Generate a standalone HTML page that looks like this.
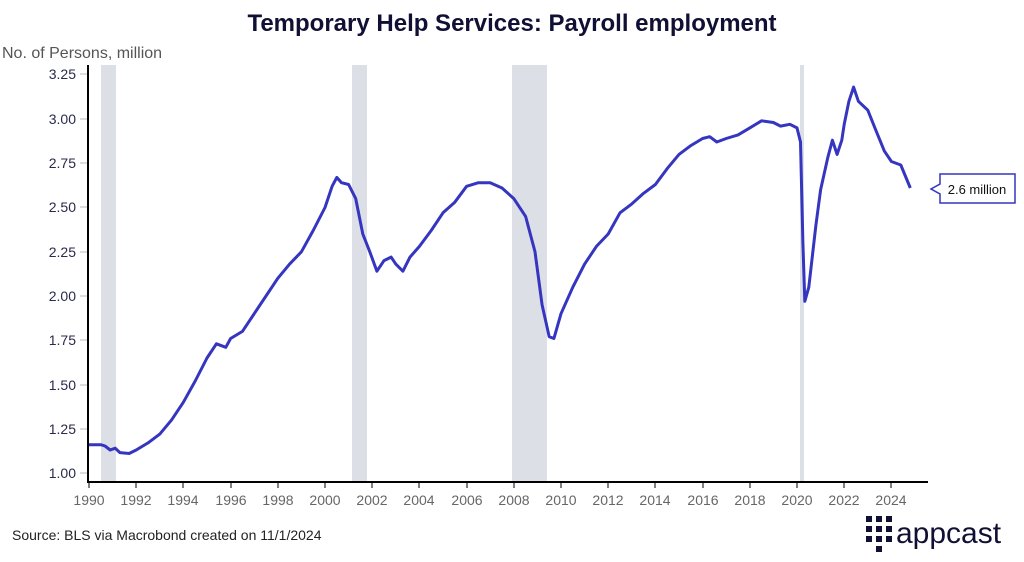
<!DOCTYPE html>
<html><head><meta charset="utf-8"><style>
body{margin:0;background:#fff;width:1024px;height:557px;overflow:hidden;font-family:"Liberation Sans",sans-serif}
</style></head><body>
<svg width="1024" height="557" xmlns="http://www.w3.org/2000/svg" font-family="Liberation Sans, sans-serif">
<text x="512" y="31" text-anchor="middle" font-size="24" font-weight="bold" fill="#101035">Temporary Help Services: Payroll employment</text>
<text x="2" y="58" font-size="16" fill="#555">No. of Persons, million</text>
<g fill="#dcdfe6">
<rect x="101" y="65" width="15" height="417"/>
<rect x="352" y="65" width="15" height="417"/>
<rect x="512" y="65" width="35" height="417"/>
<rect x="800" y="65" width="4" height="417"/>
</g>
<g font-size="14" fill="#2a2a4a" text-anchor="end">
<text x="76" y="79">3.25</text><text x="76" y="124">3.00</text><text x="76" y="168">2.75</text>
<text x="76" y="212">2.50</text><text x="76" y="257">2.25</text><text x="76" y="301">2.00</text>
<text x="76" y="345">1.75</text><text x="76" y="390">1.50</text><text x="76" y="434">1.25</text>
<text x="76" y="478">1.00</text>
</g>
<g stroke="#bbb" stroke-width="1">
<line x1="80" x2="87" y1="74" y2="74"/><line x1="80" x2="87" y1="119" y2="119"/><line x1="80" x2="87" y1="163" y2="163"/><line x1="80" x2="87" y1="207" y2="207"/><line x1="80" x2="87" y1="252" y2="252"/><line x1="80" x2="87" y1="296" y2="296"/><line x1="80" x2="87" y1="340" y2="340"/><line x1="80" x2="87" y1="385" y2="385"/><line x1="80" x2="87" y1="429" y2="429"/><line x1="80" x2="87" y1="473" y2="473"/>
</g>
<line x1="88" y1="65" x2="88" y2="483" stroke="#000" stroke-width="2"/>
<line x1="87" y1="482" x2="928" y2="482" stroke="#000" stroke-width="2"/>
<g stroke="#555" stroke-width="1.5">
<line x1="89" x2="89" y1="483" y2="488"/><line x1="136" x2="136" y1="483" y2="488"/><line x1="183" x2="183" y1="483" y2="488"/><line x1="231" x2="231" y1="483" y2="488"/><line x1="278" x2="278" y1="483" y2="488"/><line x1="325" x2="325" y1="483" y2="488"/><line x1="372" x2="372" y1="483" y2="488"/><line x1="419" x2="419" y1="483" y2="488"/><line x1="467" x2="467" y1="483" y2="488"/><line x1="514" x2="514" y1="483" y2="488"/><line x1="561" x2="561" y1="483" y2="488"/><line x1="608" x2="608" y1="483" y2="488"/><line x1="655" x2="655" y1="483" y2="488"/><line x1="703" x2="703" y1="483" y2="488"/><line x1="750" x2="750" y1="483" y2="488"/><line x1="797" x2="797" y1="483" y2="488"/><line x1="844" x2="844" y1="483" y2="488"/><line x1="891" x2="891" y1="483" y2="488"/>
</g>
<g font-size="14" fill="#666" text-anchor="middle">
<text x="89" y="505">1990</text><text x="136" y="505">1992</text><text x="183" y="505">1994</text><text x="231" y="505">1996</text><text x="278" y="505">1998</text><text x="325" y="505">2000</text><text x="372" y="505">2002</text><text x="419" y="505">2004</text><text x="467" y="505">2006</text><text x="514" y="505">2008</text><text x="561" y="505">2010</text><text x="608" y="505">2012</text><text x="655" y="505">2014</text><text x="703" y="505">2016</text><text x="750" y="505">2018</text><text x="797" y="505">2020</text><text x="844" y="505">2022</text><text x="891" y="505">2024</text>
</g>
<polyline fill="none" stroke="#3535c0" stroke-width="3" stroke-linejoin="round" points="89,444.7 100.8,444.7 105,446 110.2,450 115.2,448.2 119.9,452.6 129.1,453.5 136.2,450 148,442.9 159.8,434.1 171.6,419.9 183.4,402.2 195.2,381 207,358 216.4,343.8 225.8,347.3 230.6,338.5 242.4,331.4 254.2,313.7 266,296 277.8,278.3 289.6,264.1 301.4,251.8 313.2,230.5 325,207.5 332.1,186.3 336.8,177.4 341.5,182.7 348.6,184.5 355.7,198.6 362.8,234 369.8,251.8 376.9,271.2 384,260.6 391.1,257.1 395.8,264.1 402.9,271.2 410,257.1 419.4,246.4 431.2,230.5 443,212.8 454.8,202.2 466.6,186.3 478.4,182.7 490.2,182.7 502,188 513.8,198.6 525.6,216.4 535,251.8 542.1,304.9 549.2,336.7 553.9,338.5 561,313.7 572.8,287.2 584.6,264.1 596.4,246.4 608.2,234 620,212.8 631.8,203.9 643.6,193.3 655.4,184.5 667.2,168.6 679,154.4 690.8,145.6 702.6,138.5 709.7,136.7 716.8,142 726.2,138.5 738,134.9 749.8,127.9 761.6,120.8 773.4,122.5 780.5,126.1 789.9,124.3 797,127.9 800.5,142 802.9,242.9 804.8,301.3 808.8,287.2 815.9,225.2 820.6,189.8 827.7,157.9 832.4,140.2 837.1,154.4 841.8,140.2 844.2,124.3 848.9,101.3 853.6,87.1 858.4,101.3 867.8,110.2 874.9,127.9 884.3,150.9 891.4,161.5 900.8,165 910.3,188"/>
<path d="M940,174 H1015 V203 H940 V194 L931,189 L940,184 Z" fill="#fff" stroke="#3535c0" stroke-width="1.5"/>
<text x="977" y="194" text-anchor="middle" font-size="13" fill="#111">2.6 million</text>
<text x="12" y="540" font-size="14" fill="#222">Source: BLS via Macrobond created on 11/1/2024</text>
<g fill="#101035">
<rect x="866" y="516" width="6" height="6"/><rect x="876" y="516" width="6" height="6"/><rect x="886" y="516" width="6" height="6"/>
<rect x="866" y="526" width="6" height="6"/><rect x="876" y="526" width="6" height="6"/><rect x="886" y="526" width="6" height="6"/>
<rect x="866" y="536" width="6" height="6"/><rect x="876" y="536" width="6" height="6"/><rect x="886" y="536" width="6" height="6"/>
<rect x="876" y="546" width="6" height="6"/>
</g>
<text x="896" y="543" font-size="30" fill="#101035">appcast</text>
</svg>
</body></html>
